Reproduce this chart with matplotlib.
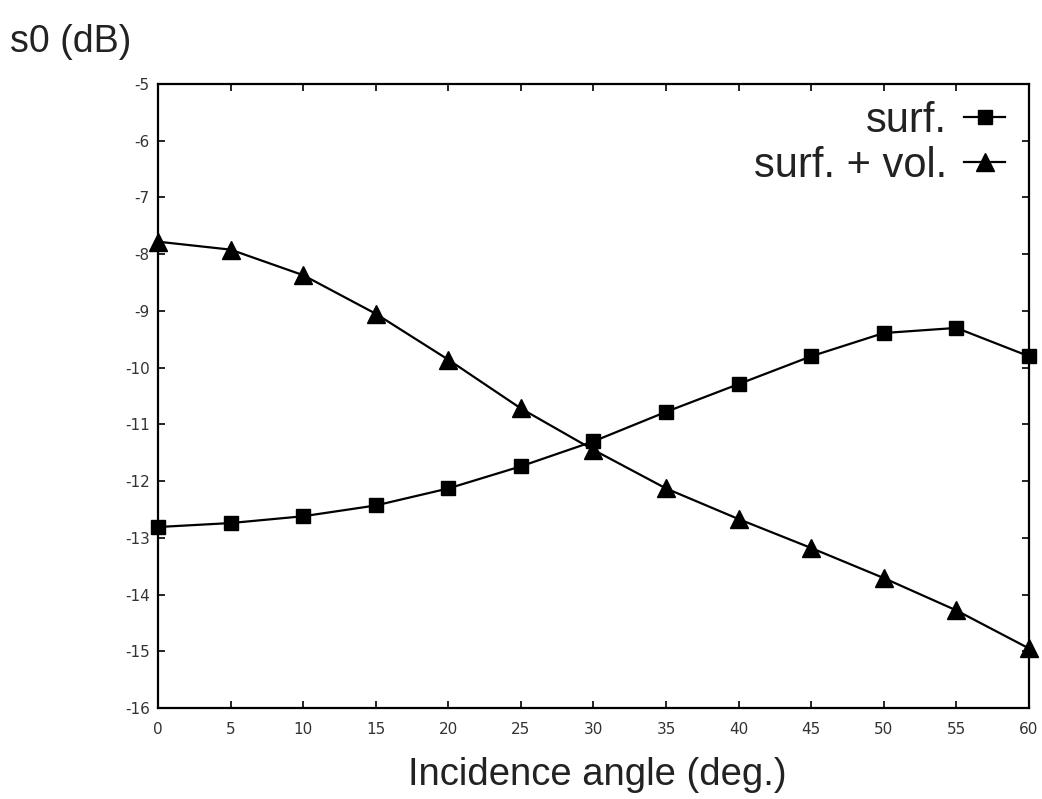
import matplotlib
matplotlib.use("Agg")
import matplotlib.pyplot as plt

# donnees
angles = [0, 5, 10, 15, 20, 25, 30, 35, 40, 45, 50, 55, 60]
surf = [-12.81, -12.74, -12.62, -12.43, -12.13, -11.74, -11.30, -10.78, -10.29, -9.80, -9.39, -9.30, -9.80]
surf_vol = [-7.78, -7.92, -8.37, -9.05, -9.86, -10.72, -11.45, -12.13, -12.67, -13.18, -13.71, -14.28, -14.95]
xticks = list(range(0, 61, 5))
yticks = list(range(-16, -4))

plt.rcParams['axes.unicode_minus'] = False

fig = plt.figure(figsize=(10.42, 7.99), dpi=100)
ax = fig.add_axes([0.1516, 0.1139, 0.8359, 0.781])

ax.plot(angles, surf, color='black', lw=1.6, marker='s', markersize=10.5, label='surf.', clip_on=False, zorder=3)
ax.plot(angles, surf_vol, color='black', lw=1.6, marker='^', markersize=13, label='surf. + vol.', clip_on=False, zorder=3)

ax.set_xlim(0, 60)
ax.set_ylim(-16, -5)
ax.set_xticks(xticks)
ax.set_yticks(yticks)
ax.tick_params(direction='in', length=5, width=1.2, top=True, right=True, labelsize=11, labelcolor='#333333')
ax.tick_params(axis='x', pad=10)
ax.tick_params(axis='y', pad=6)
for s in ax.spines.values():
    s.set_linewidth(1.6)

fnt = 'Liberation Sans'
fig.text(0.573, 0.03, 'Incidence angle (deg.)', ha='center', va='center', fontsize=27.5, family=fnt, color='#222222')
fig.text(0.01, 0.948, 's0 (dB)', ha='left', va='center', fontsize=27, family=fnt, color='#222222')

leg = ax.legend(loc='upper right', frameon=False, markerfirst=False, prop={'family': fnt, 'size': 30},
                handlelength=1.0, labelspacing=0.13, borderaxespad=0.0, handletextpad=0.4,
                bbox_to_anchor=(0.992, 1.0))
for t in leg.get_texts():
    t.set_color('#222222')

fig.savefig('out.png', dpi=100)
